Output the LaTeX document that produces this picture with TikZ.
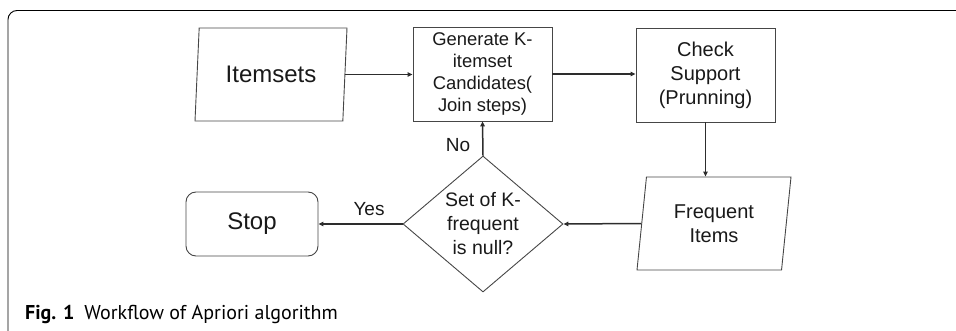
\documentclass[tikz,border=0pt]{standalone}
\usepackage{fontspec}
\setmainfont{Liberation Sans}
\newfontfamily\capfont{PT Sans}
\usetikzlibrary{shapes.geometric,arrows.meta}

\definecolor{linegray}{RGB}{70,70,70}
\definecolor{arrowgray}{RGB}{45,45,45}
\definecolor{inkgray}{RGB}{25,25,25}

\begin{document}
\begin{tikzpicture}[x=1pt, y=-1pt,
  box/.style={draw=linegray, line width=0.9pt, minimum width=139pt, minimum height=94pt, inner sep=0pt, align=center, text=inkgray},
  io/.style={draw=linegray, line width=0.9pt, trapezium, trapezium left angle=76, trapezium right angle=104, trapezium stretches body, minimum width=152pt, minimum height=93pt, inner sep=0pt, align=center, text=inkgray},
  decision/.style={draw=linegray, line width=0.9pt, diamond, shape aspect=1.18, minimum width=160pt, minimum height=136pt, inner sep=0pt, align=center, text=inkgray},
  endbox/.style={draw=linegray, line width=0.9pt, rounded corners=10pt, minimum width=132pt, minimum height=64pt, inner sep=0pt, text=inkgray},
  flow/.style={draw=arrowgray, line width=1.5pt, -{Triangle[length=5pt,width=4.5pt]}},
  lbl/.style={inner sep=0pt, text=inkgray, font=\fontsize{19}{23}\selectfont}
]

\useasboundingbox (0,0) rectangle (956,331);

% frame
\draw[line width=0.9pt, rounded corners=9pt] (956,10.5) -- (8,10.5) -- (8,331);

% blocks
\node[io, font=\fontsize{24}{29}\selectfont] (items) at (271,74.5) {Itemsets};
\node[box, font=\fontsize{18.4}{22}\selectfont] (gen) at (482.5,74) {Generate K-\\itemset\\Candidates(\\Join steps)};
\node[box, font=\fontsize{20}{24}\selectfont] (check) at (705.5,75) {Check\\Support\\(Prunning)};
\node[io, minimum width=154pt, font=\fontsize{20}{24}\selectfont] (freq) at (714,223.5) {Frequent\\Items};
\node[decision, font=\fontsize{19.5}{24}\selectfont] (null) at (483,224) {Set of K-\\frequent\\is null?};
\node[endbox, font=\fontsize{24}{29}\selectfont] (stop) at (252,224) {Stop};

% arrows
\draw[flow] (items.east) -- (items.east -| gen.west);
\draw[flow] (gen.east) -- (gen.east -| check.west);
\draw[flow] (check.south) -- (check.south |- freq.north);
\draw[flow] (freq.west) -- (null.east);
\draw[flow] (null.west) -- (stop.east);
\draw[flow] (null.north) -- (gen.south);

\node[lbl] (no) at (458,145) {No};
\node[lbl] (yes) at (369,209) {Yes};

% caption
\node[anchor=base west, inner sep=0pt, font=\capfont\fontsize{20}{24}\selectfont] (cap) at (25,319)
  {\textbf{Fig. 1}\hspace{10pt}Workflow of Apriori algorithm};

\end{tikzpicture}
\end{document}
